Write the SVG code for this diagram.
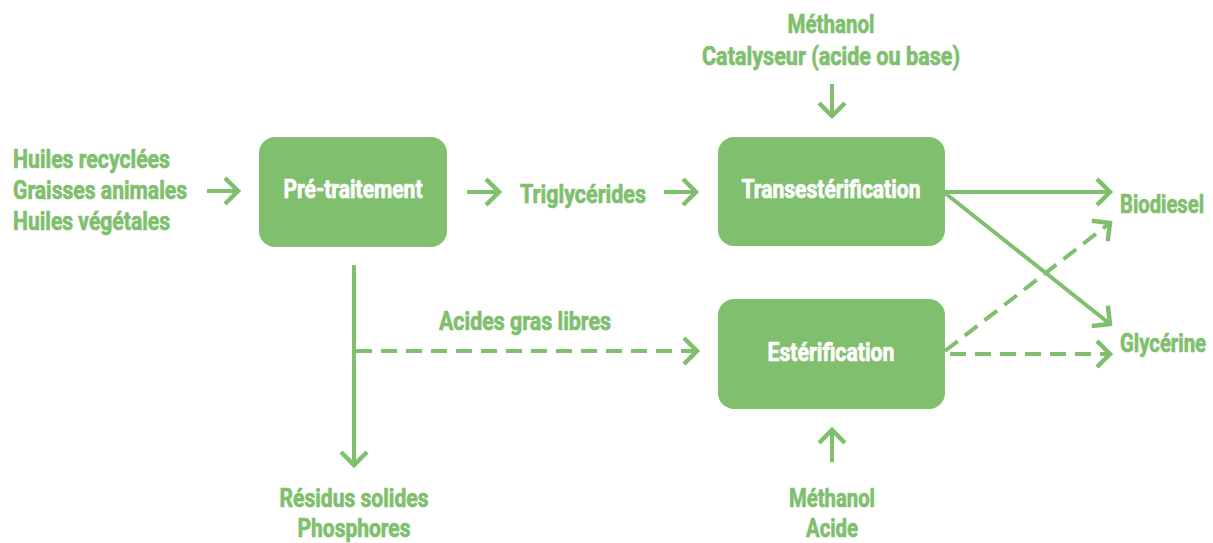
<svg xmlns="http://www.w3.org/2000/svg" width="1213" height="543" viewBox="0 0 1213 543">
<style>
  text { font-family: Roboto, "Liberation Sans", sans-serif; font-weight: bold; font-size: 25px; stroke-width: 0.7; stroke-linejoin: round; }
  .lbl { fill: #80BF6E; stroke: #80BF6E; }
  .box { fill: #80BF6E; }
  .boxt { fill: #ffffff; stroke: #ffffff; text-anchor: middle; }
  .c { text-anchor: middle; }
  .ln { stroke: #80BF6E; stroke-width: 4; fill: none; }
  .dash { stroke-dasharray: 16 9; }
</style>
<defs>
  <marker id="ah" markerUnits="userSpaceOnUse" markerWidth="32" markerHeight="32" refX="15" refY="15" orient="auto" viewBox="0 0 32 32">
    <path d="M2 2 L15 15 L2 28" fill="none" stroke="#80BF6E" stroke-width="4.5"/>
  </marker>
</defs>

<g id="inputs" class="lbl">
  <text x="13" y="168" textLength="157" lengthAdjust="spacingAndGlyphs">Huiles recyclées</text>
  <text x="13" y="199" textLength="174" lengthAdjust="spacingAndGlyphs">Graisses animales</text>
  <text x="13" y="230" textLength="157" lengthAdjust="spacingAndGlyphs">Huiles végétales</text>
</g>

<g id="pretraitement">
  <rect class="box" x="259" y="137" width="188" height="110" rx="16"/>
  <text class="boxt" x="353" y="198" textLength="139" lengthAdjust="spacingAndGlyphs">Pré-traitement</text>
</g>

<g id="triglycerides" class="lbl">
  <text x="520" y="203" textLength="126" lengthAdjust="spacingAndGlyphs">Triglycérides</text>
</g>

<g id="transesterification">
  <rect class="box" x="718" y="137" width="227" height="109" rx="16"/>
  <text class="boxt" x="831" y="198" textLength="179" lengthAdjust="spacingAndGlyphs">Transestérification</text>
</g>

<g id="esterification">
  <rect class="box" x="718" y="299" width="227" height="110" rx="16"/>
  <text class="boxt" x="831" y="361" textLength="127" lengthAdjust="spacingAndGlyphs">Estérification</text>
</g>

<g id="top-inputs" class="lbl c">
  <text x="831" y="33" textLength="87" lengthAdjust="spacingAndGlyphs">Méthanol</text>
  <text x="831" y="65" textLength="258" lengthAdjust="spacingAndGlyphs">Catalyseur (acide ou base)</text>
</g>

<g id="bottom-inputs" class="lbl c">
  <text x="832" y="507" textLength="86" lengthAdjust="spacingAndGlyphs">Méthanol</text>
  <text x="832" y="537" textLength="52" lengthAdjust="spacingAndGlyphs">Acide</text>
</g>

<g id="residus" class="lbl c">
  <text x="354" y="507" textLength="149" lengthAdjust="spacingAndGlyphs">Résidus solides</text>
  <text x="354" y="537" textLength="113" lengthAdjust="spacingAndGlyphs">Phosphores</text>
</g>

<g id="acides" class="lbl c">
  <text x="525" y="330" textLength="172" lengthAdjust="spacingAndGlyphs">Acides gras libres</text>
</g>

<g id="biodiesel" class="lbl">
  <text x="1120" y="213" textLength="84" lengthAdjust="spacingAndGlyphs">Biodiesel</text>
</g>

<g id="glycerine" class="lbl">
  <text x="1120" y="352" textLength="86" lengthAdjust="spacingAndGlyphs">Glycérine</text>
</g>

<g id="connectors">
  <line class="ln" x1="207" y1="191" x2="238" y2="191" marker-end="url(#ah)"/>
  <line class="ln" x1="467" y1="192" x2="499" y2="192" marker-end="url(#ah)"/>
  <line class="ln" x1="664" y1="192" x2="696" y2="192" marker-end="url(#ah)"/>
  <line class="ln" x1="832" y1="84" x2="832" y2="116" marker-end="url(#ah)"/>
  <line class="ln" x1="832" y1="462" x2="832" y2="430" marker-end="url(#ah)"/>
  <line class="ln" x1="354" y1="265" x2="354" y2="465" marker-end="url(#ah)"/>
  <line class="ln dash" x1="356" y1="351" x2="697" y2="351" marker-end="url(#ah)"/>
  <line class="ln" x1="945" y1="192" x2="1110" y2="192" marker-end="url(#ah)"/>
  <line class="ln" x1="945" y1="193" x2="1110" y2="324" marker-end="url(#ah)"/>
  <line class="ln dash" x1="945" y1="351" x2="1110" y2="223" marker-end="url(#ah)"/>
  <line class="ln dash" x1="950" y1="354" x2="1110" y2="354" marker-end="url(#ah)"/>
</g>
</svg>
